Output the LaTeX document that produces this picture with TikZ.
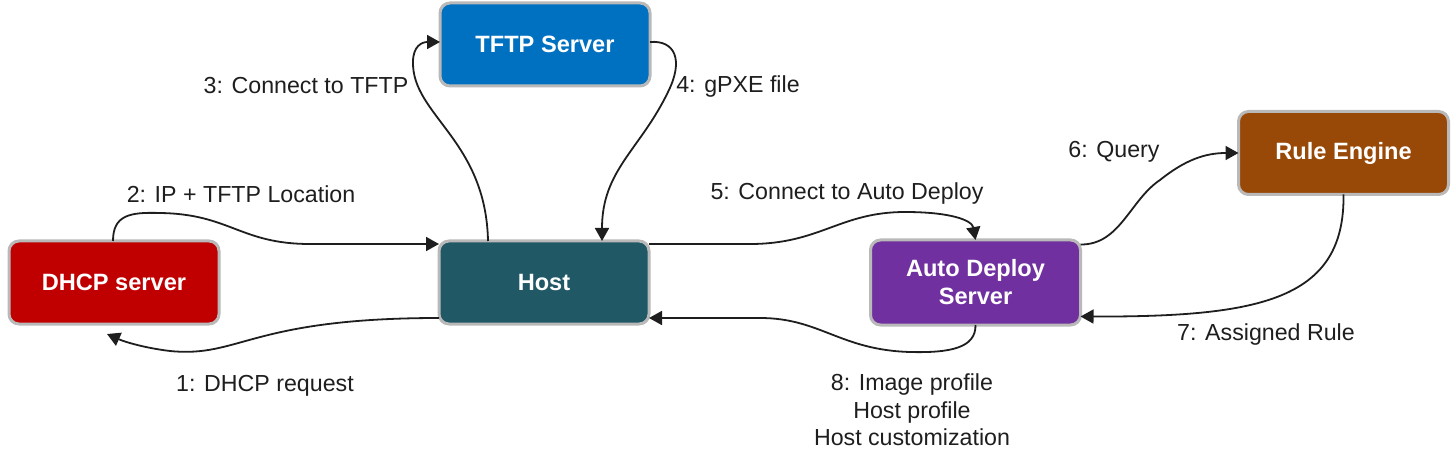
\documentclass[tikz,border=0pt]{standalone}
\usepackage{fontspec}
\setmainfont{Liberation Sans}
\usetikzlibrary{arrows.meta,calc}
\definecolor{dhcpred}{RGB}{192,0,0}
\definecolor{hostteal}{RGB}{33,88,102}
\definecolor{tftpblue}{RGB}{0,112,192}
\definecolor{adpurple}{RGB}{112,48,160}
\definecolor{rulebrown}{RGB}{152,72,7}
\definecolor{boxedge}{RGB}{185,185,185}
\definecolor{ink}{RGB}{30,30,30}
\tikzset{
  box/.style={rounded corners=5pt, draw=boxedge, line width=1.5pt, text=white,
    font=\bfseries\fontsize{11.8}{14}\selectfont, align=center, outer sep=0pt,
    inner sep=0pt, minimum width=105pt, minimum height=41.5pt},
  conn/.style={draw=ink, line width=0.9pt, -{Triangle[length=6.5pt,width=7pt]}},
  lbl/.style={text=ink, font=\fontsize{11.6}{13.8}\selectfont, inner sep=0pt, align=center}
}
\begin{document}
\begin{tikzpicture}[x=0.5pt,y=-0.5pt]
\useasboundingbox (0,0) rectangle (1456,454);
% boxes
\node[box, fill=dhcpred] (dhcp) at (114,282.5) {DHCP server};
\node[box, fill=hostteal] (host) at (544,282.5) {Host};
\node[box, fill=tftpblue] (tftp) at (545,44.5) {TFTP Server};
\node[box, fill=adpurple, minimum height=42.5pt] (ads) at (975.5,282.5) {Auto Deploy\\Server};
\node[box, fill=rulebrown] (rule) at (1343.5,153) {Rule Engine};
% connectors
% 1
\draw[conn] ([yshift=-17.75pt]host.west) .. controls (250,318) and (240,358) .. (170,351)
  .. controls (145,348) and (125,342) .. ([xshift=-3.5pt,yshift=-5pt]dhcp.south);
% 2
\draw[conn] ([xshift=-0.5pt]dhcp.north) .. controls (113,215) and (130,212) .. (160,213)
  .. controls (230,214) and (240,244) .. (310,244) -- ([yshift=19.25pt]host.west);
% 3
\draw[conn] ([xshift=-28pt]host.north) .. controls (486,140) and (412,115) .. (413,62)
  .. controls (413,46) and (422,42) .. ([yshift=1.25pt]tftp.west);
% 4
\draw[conn] ([yshift=1.25pt]tftp.east) .. controls (675,40) and (684,60) .. (668,92)
  .. controls (640,150) and (602,170) .. ([xshift=29pt]host.north);
% 5
\draw[conn] ([yshift=19.25pt]host.east) -- (750,244) .. controls (820,244) and (840,212) .. (905,212)
  .. controls (950,212) and (972,220) .. (ads.north);
% 6
\draw[conn] ([yshift=19pt]ads.east) .. controls (1120,245) and (1130,200) .. (1160,180)
  .. controls (1185,160) and (1205,153) .. (rule.west);
% 7
\draw[conn] (rule.south) .. controls (1345,300) and (1260,317) .. ([yshift=-17pt]ads.east);
% 8
\draw[conn] (ads.south) .. controls (976,348) and (950,353) .. (910,352)
  .. controls (840,350) and (820,318) .. (760,318) -- ([yshift=-17.75pt]host.east);
% labels
\node[lbl] (l1) at (265,386) {1: DHCP request};
\node[lbl] (l2) at (241,194) {2: IP + TFTP Location};
\node[lbl] (l3) at (306,86) {3: Connect to TFTP};
\node[lbl] (l4) at (738,87) {4: gPXE file};
\node[lbl] (l5) at (847,194) {5: Connect to Auto Deploy};
\node[lbl] (l6) at (1114,152) {6: Query};
\node[lbl] (l7) at (1266,335) {7: Assigned Rule};
\node[lbl] (l8) at (912,410) {8: Image profile\\Host profile\\Host customization};
\end{tikzpicture}
\end{document}
